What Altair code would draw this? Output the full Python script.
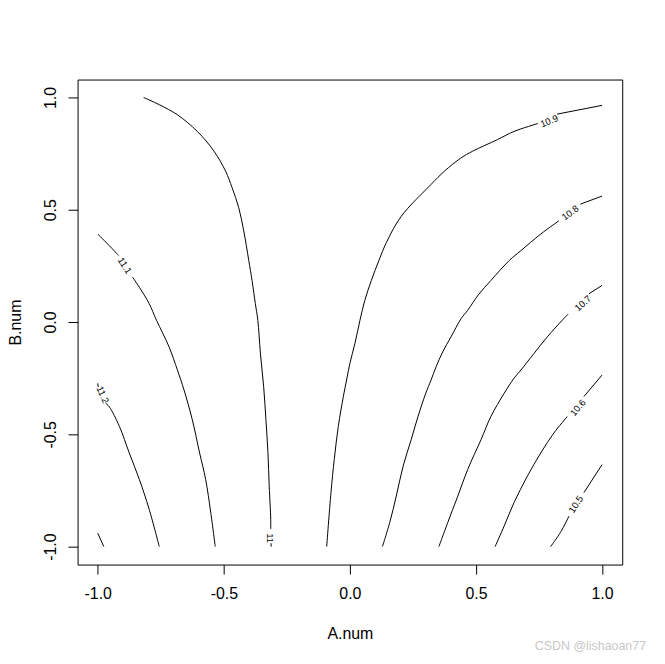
import altair as alt
import pandas as pd

# ---- contour line pieces (A.num, B.num); split where a label sits ----
seg_names = ["c113", "c112a", "c112b", "c111a", "c111b", "c110a", "c110b",
             "c109a", "c109b", "c108a", "c108b", "c107a", "c107b",
             "c106a", "c106b", "c105a", "c105b"]

c113_x = [-1.0, -0.976]
c113_y = [-0.940, -1.0]

c112a_x = [-1.0, -0.998]
c112a_y = [-0.273, -0.290]
c112b_x = [-0.970, -0.954, -0.914, -0.875, -0.835, -0.796, -0.756]
c112b_y = [-0.360, -0.378, -0.465, -0.583, -0.701, -0.834, -1.0]

c111a_x = [-1.0, -0.954, -0.917]
c111a_y = [0.392, 0.340, 0.296]
c111b_x = [-0.862, -0.835, -0.796, -0.767, -0.717, -0.684, -0.658, -0.625, -0.596, -0.572, -0.552, -0.534]
c111b_y = [0.200, 0.155, 0.082, 0.008, -0.111, -0.214, -0.302, -0.435, -0.583, -0.701, -0.847, -1.0]

c110a_x = [-0.818, -0.756, -0.684, -0.605, -0.539, -0.493, -0.467, -0.441, -0.421, -0.401,
           -0.388, -0.375, -0.365, -0.355, -0.342, -0.333, -0.325, -0.320, -0.314, -0.314]
c110a_y = [1.0, 0.968, 0.923, 0.849, 0.761, 0.672, 0.598, 0.510, 0.406, 0.274,
           0.185, 0.082, 0.008, -0.138, -0.288, -0.435, -0.581, -0.731, -0.878, -0.922]
c110b_x = [-0.313, -0.312]
c110b_y = [-0.985, -1.0]

c109a_x = [1.0, 0.822]
c109a_y = [0.965, 0.926]
c109b_x = [0.745, 0.651, 0.586, 0.487, 0.441, 0.375, 0.322, 0.203, 0.145, 0.115, 0.085,
           0.059, 0.040, 0.020, 0.000, -0.013, -0.026, -0.046, -0.062, -0.075, -0.092]
c109b_y = [0.884, 0.849, 0.813, 0.761, 0.731, 0.672, 0.613, 0.470, 0.355, 0.274, 0.185,
           0.096, 0.008, -0.095, -0.184, -0.258, -0.332, -0.465, -0.612, -0.759, -1.0]

c108a_x = [1.0, 0.914]
c108a_y = [0.561, 0.525]
c108b_x = [0.829, 0.757, 0.678, 0.632, 0.559, 0.510, 0.467, 0.441, 0.401, 0.368, 0.342, 0.322,
           0.300, 0.270, 0.243, 0.211, 0.184, 0.158, 0.129]
c108b_y = [0.451, 0.392, 0.318, 0.274, 0.185, 0.122, 0.052, 0.015, -0.066, -0.133, -0.199, -0.258,
           -0.320, -0.421, -0.524, -0.642, -0.775, -0.893, -1.0]

c107a_x = [1.0, 0.948]
c107a_y = [0.163, 0.126]
c107b_x = [0.866, 0.842, 0.783, 0.730, 0.678, 0.651, 0.612, 0.559, 0.520, 0.467, 0.428, 0.388, 0.353]
c107b_y = [0.036, 0.008, -0.066, -0.140, -0.214, -0.250, -0.317, -0.421, -0.524, -0.657, -0.775, -0.893, -1.0]

c106a_x = [1.0, 0.928]
c106a_y = [-0.236, -0.332]
c106b_x = [0.862, 0.809, 0.757, 0.704, 0.651, 0.612, 0.576]
c106b_y = [-0.421, -0.494, -0.583, -0.686, -0.804, -0.908, -1.0]

c105a_x = [1.0, 0.928]
c105a_y = [-0.635, -0.760]
c105b_x = [0.869, 0.835, 0.796]
c105b_y = [-0.864, -0.937, -1.0]

# ---- contour labels ----
label_text = ["10.5", "10.6", "10.7", "10.8", "10.9", "11", "11.1", "11.2"]
label_x = [0.897, 0.905, 0.925, 0.874, 0.791, -0.318, -0.894, -0.981]
label_y = [-0.812, -0.382, 0.083, 0.486, 0.894, -0.962, 0.251, -0.324]
label_angle = [303, 310, 318, 323, 338, 90, 57, 66]

tick_values = [-1.0, -0.5, 0.0, 0.5, 1.0]
x_title = "A.num"
y_title = "B.num"
watermark = "CSDN @lishaoan77"

g = globals()
rows = []
for s in seg_names:
    for i, (xv, yv) in enumerate(zip(g[s + "_x"], g[s + "_y"])):
        rows.append({"seg": s, "i": i, "A": xv, "B": yv})
lines_df = pd.DataFrame(rows)
labels_df = pd.DataFrame({"t": label_text, "A": label_x, "B": label_y, "ang": label_angle})

FONT = "Liberation Sans"
lab_expr = "datum.value < 0 ? '-' + format(-datum.value, '.1f') : format(datum.value, '.1f')"

xs = alt.Scale(domain=[-1.08, 1.08], nice=False, zero=False)
ys = alt.Scale(domain=[-1.08, 1.08], nice=False, zero=False)

x_axis = alt.Axis(values=tick_values, labelExpr=lab_expr, title=x_title,
                  titleX=274, titleY=74, titleBaseline="alphabetic", titleAlign="center",
                  labelPadding=12)
y_axis = alt.Axis(values=tick_values, labelExpr=lab_expr, title=y_title, labelAngle=270,
                  titleX=-57, titleY=244, titleBaseline="alphabetic", titleAlign="center",
                  titleAngle=270, labelPadding=10)

lines = alt.Chart(lines_df).mark_line(color="black", strokeWidth=1,
                                      interpolate="catmull-rom").encode(
    x=alt.X("A:Q", scale=xs, axis=x_axis),
    y=alt.Y("B:Q", scale=ys, axis=y_axis),
    detail="seg:N",
    order="i:Q",
)

labels = alt.Chart(labels_df).mark_text(font=FONT, fontSize=9.5, color="black",
                                        align="center", baseline="middle").encode(
    x=alt.X("A:Q", scale=xs),
    y=alt.Y("B:Q", scale=ys),
    text="t:N",
    angle=alt.Angle("ang:Q", scale=None),
)

wm = alt.Chart(pd.DataFrame({"t": [watermark]})).mark_text(
    font=FONT, fontSize=12.5, color="#c8c8c8", align="right", baseline="middle"
).encode(text="t:N", x=alt.value(572), y=alt.value(570))

chart = alt.layer(lines, labels, wm).properties(
    width=548, height=488,
    autosize=alt.AutoSizeParams(type="none"),
    padding={"left": 70, "top": 70, "right": 35, "bottom": 86},
).configure_view(stroke="black", strokeWidth=1).configure_axis(
    domain=False, grid=False, tickColor="black", tickSize=9.6, tickWidth=1,
    labelFont=FONT, labelFontSize=16, labelColor="black",
    titleFont=FONT, titleFontSize=16, titleFontWeight="normal", titleColor="black",
)

chart.save("out.html", embed_options={"renderer": "svg", "actions": False})
